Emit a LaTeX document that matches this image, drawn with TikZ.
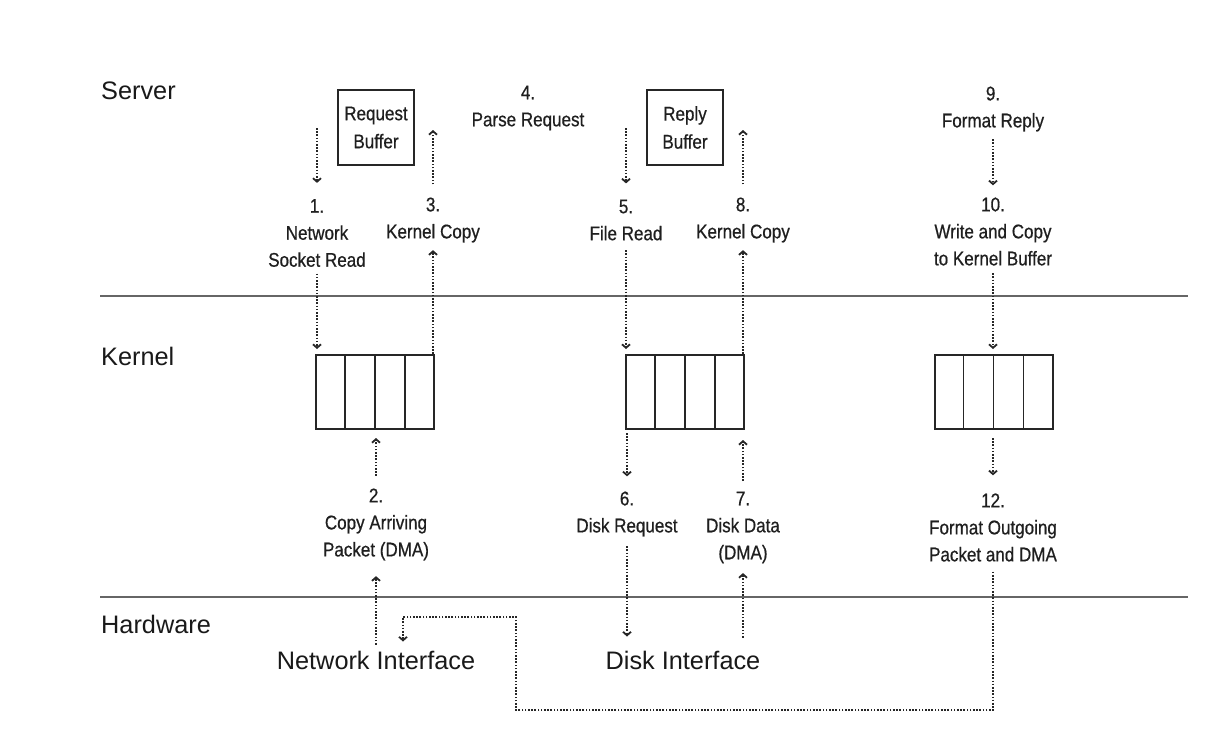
\documentclass[tikz,border=0pt]{standalone}
\usepackage{fontspec}
\setmainfont{Liberation Sans}
\newfontfamily\condf[FakeStretch=0.86,FakeBold=0.6]{Liberation Sans}
\usetikzlibrary{arrows.meta,calc}
\begin{document}
\begin{tikzpicture}[x=1pt,y=-1pt,
  lbl/.style={font=\condf\fontsize{19.8}{27}\selectfont, align=center, inner sep=0pt, text=black!88},
  big/.style={font=\fontsize{25.3}{30}\selectfont, inner sep=0pt, text=black!90},
  bufbox/.style={draw=black!85, line width=2pt, minimum width=76pt, minimum height=75pt, inner sep=0pt,
    font=\condf\fontsize{19.8}{28}\selectfont, align=center, text=black!88},
  kbox/.style={draw=black!85, line width=2pt, minimum width=118pt, minimum height=74pt, inner sep=0pt},
  divider/.style={draw=black!85, line width=1.8pt},
  flow/.style={draw=black!85, line width=1.6pt, dash pattern=on 1.6pt off 1.6pt,
    -{Straight Barb[length=3.5pt,width=8pt,line width=1.8pt]}},
  sepline/.style={draw=black!60, line width=1.6pt}]
\useasboundingbox (0,0) rectangle (1226,748);
\fill[white] (0,0) rectangle (1226,748);

% layer labels
\node[big, anchor=west] (server) at (101,91) {Server};
\node[big, anchor=west] (kernel) at (101,356) {Kernel};
\node[big, anchor=west] (hardware) at (101,624) {Hardware};

% separators
\coordinate (sepAl) at (100,296); \coordinate (sepAr) at (1188,296);
\coordinate (sepBl) at (100,597); \coordinate (sepBr) at (1188,597);
\draw[sepline] (sepAl) -- (sepAr);
\draw[sepline] (sepBl) -- (sepBr);

% buffers
\node[bufbox] (reqbuf) at (376,127.5) {Request\\Buffer};
\node[bufbox] (repbuf) at (685,127.5) {Reply\\Buffer};

% kernel buffers
\node[kbox] (K1) at (375,392) {};
\node[kbox] (K2) at (685,392) {};
\node[kbox] (K3) at (993.5,392) {};
\foreach \k in {K1,K2,K3}{
  \foreach \f in {0.25,0.5,0.75}{
    \draw[divider] ($(\k.north west)!\f!(\k.north east)$) -- ($(\k.south west)!\f!(\k.south east)$);
  }
}

% labels
\node[lbl] (L1) at (317,233) {1.\\Network\\Socket Read};
\node[lbl] (L3) at (433,220) {3.\\Kernel Copy};
\node[lbl] (L4) at (528,108) {4.\\Parse Request};
\node[lbl] (L5) at (626,220) {5.\\File Read};
\node[lbl] (L8) at (743,220) {8.\\Kernel Copy};
\node[lbl] (L9) at (993,109) {9.\\Format Reply};
\node[lbl] (L10) at (993,231.5) {10.\\Write and Copy\\to Kernel Buffer};
\node[lbl] (L2) at (376,524.5) {2.\\Copy Arriving\\Packet (DMA)};
\node[lbl] (L6) at (627,514) {6.\\Disk Request};
\node[lbl] (L7) at (743,527.5) {7.\\Disk Data\\(DMA)};
\node[lbl] (L12) at (993,527.5) {12.\\Format Outgoing\\Packet and DMA};

\node[big] (NI) at (376,660) {Network Interface};
\node[big] (DI) at (683,660) {Disk Interface};

% free ends in the server layer
\coordinate (s1) at (317,128);
\coordinate (s3) at (433,130);
\coordinate (s5) at (626,128);
\coordinate (s8) at (743,130);

% server layer arrows
\draw[flow, shorten >=16pt] (s1) -- (L1.north);
\draw[flow, shorten <=13pt] (L3.north) -- (s3);
\draw[flow, shorten >=16pt] (s5) -- (L5.north);
\draw[flow, shorten <=13pt] (L8.north) -- (s8);
\draw[flow, shorten <=7.5pt, shorten >=12pt] (L9.south) -- (L10.north);

% server <-> kernel
\draw[flow, shorten <=6.5pt, shorten >=5pt] (L1.south) -- (L1.south |- K1.north);
\draw[flow, shorten >=7.5pt] (K1.north -| L3.south) -- (L3.south);
\draw[flow, shorten <=9.5pt, shorten >=5pt] (L5.south) -- (L5.south |- K2.north);
\draw[flow, shorten >=7.5pt] (K2.north -| L8.south) -- (L8.south);
\draw[flow, shorten <=7.5pt, shorten >=5pt] (L10.south) -- (L10.south |- K3.north);

% kernel lower
\draw[flow, shorten <=12.4pt, shorten >=8pt] (L2.north) -- (L2.north |- K1.south);
\draw[flow, shorten <=3pt, shorten >=15pt] (K2.south -| L6.north) -- (L6.north);
\draw[flow, shorten <=10.4pt, shorten >=10pt] (L7.north) -- (L7.north |- K2.south);
\draw[flow, shorten <=8pt, shorten >=18pt] (K3.south -| L12.north) -- (L12.north);

% hardware
\draw[flow, shorten <=6pt, shorten >=15.5pt] (NI.north -| L2.south) -- (L2.south);
\draw[flow, shorten <=9.5pt, shorten >=14pt] (L6.south) -- (L6.south |- DI.north);
\draw[flow, shorten <=13pt, shorten >=9.5pt] (DI.north -| L7.south) -- (L7.south);

\coordinate (eb) at (516,710);
\coordinate (et) at (403,617);
\draw[flow, shorten <=10pt, shorten >=9pt] (L12.south) |- (eb) |- (et) -- (et |- NI.north);
\end{tikzpicture}
\end{document}
